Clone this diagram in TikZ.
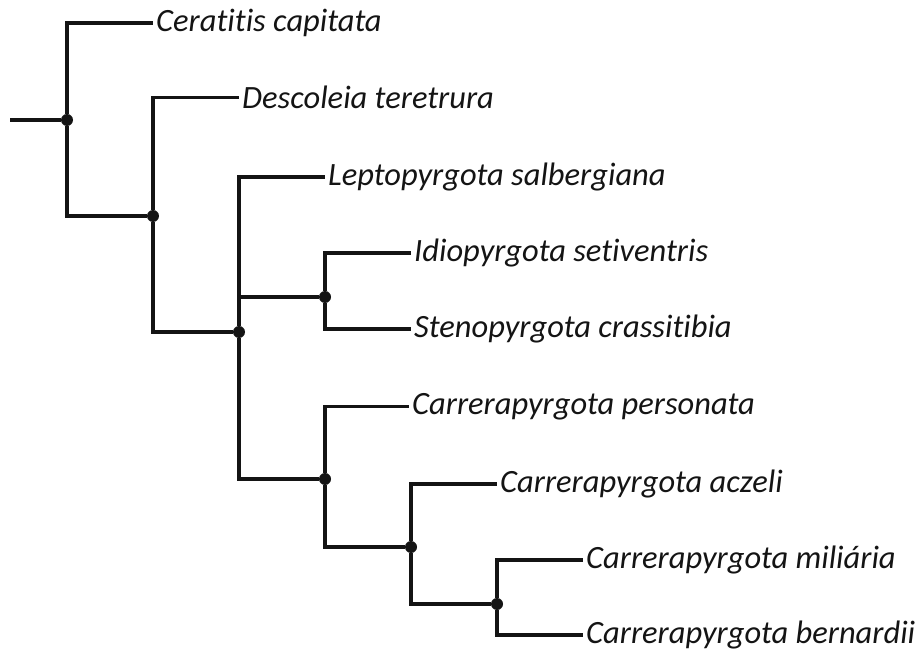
\documentclass[tikz,border=0pt]{standalone}
\usepackage{fontspec}
\setmainfont{Carlito}[Ligatures=NoCommon]
\usetikzlibrary{positioning}
\definecolor{ink}{RGB}{20,20,20}
\tikzset{
  branch/.style={line width=3.4pt,draw=ink},
  fork/.style={circle,fill=ink,inner sep=0pt,minimum size=12pt},
  taxon/.style={anchor=mid west,inner ysep=0pt,inner xsep=3pt,
    font=\fontsize{32.5}{36}\selectfont\itshape,text=ink},
}

\begin{document}
\begin{tikzpicture}[x=1pt,y=-1pt]
  \useasboundingbox (0,0) rectangle (922,663);
  % forks of the tree
  \coordinate (root) at (10,120);
  \node[fork] (f1) at (67,120) {};
  \node[fork] (f2) at (153,216) {};
  \node[fork] (f3) at (239,332) {};
  \node[fork] (f4) at (325,297) {};
  \node[fork] (f5) at (325,479) {};
  \node[fork] (f6) at (411,547) {};
  \node[fork] (f7) at (497,604) {};
  % taxa
  \node[taxon] (ccap) at (153,29) {Ceratitis capitata};
  \node[taxon] (dter) at (239,106) {Descoleia teretrura};
  \node[taxon] (lsal) at (325,183) {Leptopyrgota salbergiana};
  \node[taxon] (iset) at (411,259) {Idiopyrgota setiventris};
  \node[taxon] (scra) at (411,335) {Stenopyrgota crassitibia};
  \node[taxon] (cper) at (409,412) {Carrerapyrgota personata};
  \node[taxon] (cacz) at (497,490) {Carrerapyrgota aczeli};
  \node[taxon] (cmil) at (583,566) {Carrerapyrgota miliária};
  \node[taxon] (cber) at (583,641) {Carrerapyrgota bernardii};
  % branches
  \draw[branch] (root) -- (f1);
  \draw[branch] (f1) |- (ccap.west);
  \draw[branch] (f1) |- (f2);
  \draw[branch] (f2) |- (dter.west);
  \draw[branch] (f2) |- (f3);
  \draw[branch] (f3) |- (lsal.west);
  \draw[branch] (f3) |- (f4);
  \draw[branch] (f3) |- (f5);
  \draw[branch] (f4) |- (iset.west);
  \draw[branch] (f4) |- (scra.west);
  \draw[branch] (f5) |- (cper.west);
  \draw[branch] (f5) |- (f6);
  \draw[branch] (f6) |- (cacz.west);
  \draw[branch] (f6) |- (f7);
  \draw[branch] (f7) |- (cmil.west);
  \draw[branch] (f7) |- (cber.west);
\end{tikzpicture}
\end{document}
